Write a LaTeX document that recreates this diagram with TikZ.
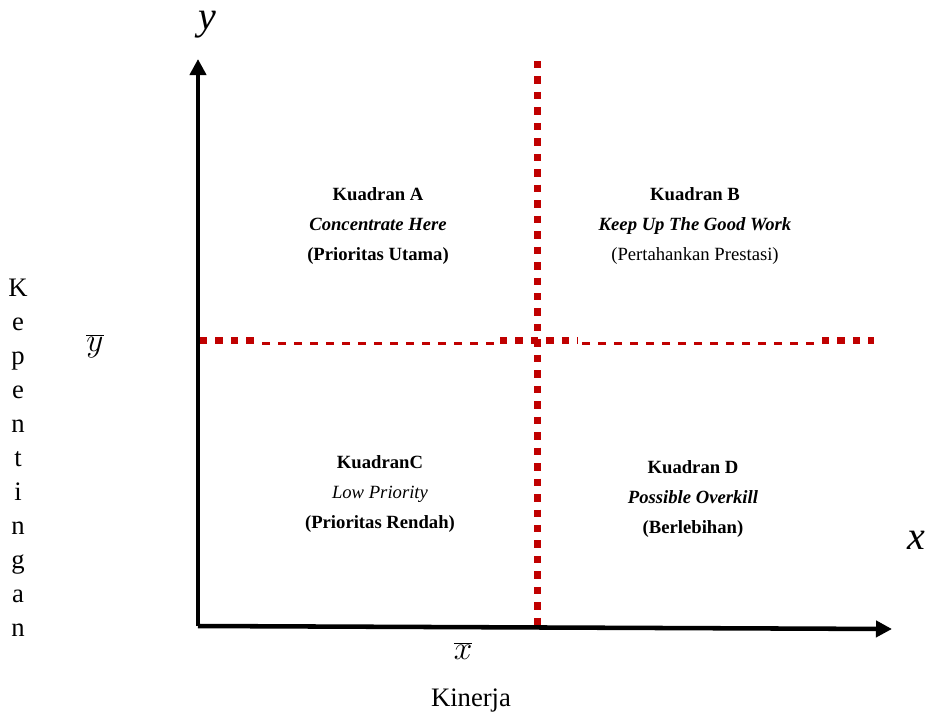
\documentclass[tikz,border=0pt]{standalone}
\usepackage{fontspec}
\setmainfont{Liberation Serif}
\usepackage{tikz}
\usetikzlibrary{arrows.meta}
\pgfdeclarelayer{nodelayer}
\pgfdeclarelayer{edgelayer}
\pgfsetlayers{edgelayer,nodelayer,main}
\definecolor{dotred}{RGB}{192,0,0}
\tikzstyle{none}=[fill=none, draw=none, shape=coordinate]
\tikzstyle{quadrant}=[fill=none, draw=none, align=center, inner sep=0pt, font=\fontsize{14}{22.5}\selectfont]
\tikzstyle{axis label}=[fill=none, draw=none, inner sep=0pt, font=\fontsize{30}{30}\selectfont\itshape]
\tikzstyle{mean label}=[fill=none, draw=none, inner sep=0pt, font=\fontsize{29}{29}\selectfont]
\tikzstyle{title label}=[fill=none, draw=none, align=center, inner sep=0pt, font=\fontsize{20}{25.5}\selectfont]
\tikzstyle{axis edge}=[draw=black, line width=3.4pt, -{Triangle[length=12pt, width=12pt]}]
\tikzstyle{red dots}=[draw=dotred, line width=5.25pt, dash pattern=on 5.6pt off 6pt]
\tikzstyle{red dashes}=[draw=dotred, line width=2.25pt, dash pattern=on 6pt off 6pt]

\begin{document}
\begin{tikzpicture}[x=0.75pt, y=-0.75pt]
	\useasboundingbox (0, 0) rectangle (929, 718);
	\begin{pgfonlayer}{nodelayer}
		\node [style=none] (0) at (198, 626) {};
		\node [style=none] (1) at (198, 59) {};
		\node [style=none] (2) at (892, 629) {};
		\node [style=none] (3) at (200, 340.5) {};
		\node [style=none] (4) at (256, 340.5) {};
		\node [style=none] (5) at (262, 343.5) {};
		\node [style=none] (6) at (496, 343.5) {};
		\node [style=none] (7) at (500, 340.5) {};
		\node [style=none] (8) at (578, 340.5) {};
		\node [style=none] (9) at (582, 343.5) {};
		\node [style=none] (10) at (818, 343.5) {};
		\node [style=none] (11) at (822, 340.5) {};
		\node [style=none] (12) at (874, 340.5) {};
		\node [style=none] (13) at (537, 61) {};
		\node [style=none] (14) at (537, 626) {};
		\node [style=quadrant] (15) at (378, 226) {\textbf{Kuadran A}\\\textbf{\textit{Concentrate Here}}\\\textbf{(Prioritas Utama)}};
		\node [style=quadrant] (16) at (695, 226) {\textbf{Kuadran B}\\\textbf{\textit{Keep Up The Good Work}}\\(Pertahankan Prestasi)};
		\node [style=quadrant] (17) at (380, 494) {\textbf{KuadranC}\\\textit{Low Priority}\\\textbf{(Prioritas Rendah)}};
		\node [style=quadrant] (18) at (693, 499) {\textbf{Kuadran D}\\\textbf{\textit{Possible Overkill}}\\\textbf{(Berlebihan)}};
		\node [style=axis label] (19) at (207, 25) {y};
		\node [style=axis label] (20) at (916, 540) {x};
		\node [style=mean label] (21) at (95, 346) {$\overline{y}$};
		\node [style=mean label] (22) at (463, 651) {$\overline{x}$};
		\node [style=title label] (23) at (471, 701) {Kinerja};
		\node [style=title label] (24) at (18, 458) {K\\e\\p\\e\\n\\t\\i\\n\\g\\a\\n};
	\end{pgfonlayer}
	\begin{pgfonlayer}{edgelayer}
		\draw [style=axis edge] (0) to (1);
		\draw [style=axis edge] (0) to (2);
		\draw [style=red dots] (13) to (14);
		\draw [style=red dots] (3) to (4);
		\draw [style=red dashes] (5) to (6);
		\draw [style=red dots] (7) to (8);
		\draw [style=red dashes] (9) to (10);
		\draw [style=red dots] (11) to (12);
	\end{pgfonlayer}
\end{tikzpicture}
\end{document}
